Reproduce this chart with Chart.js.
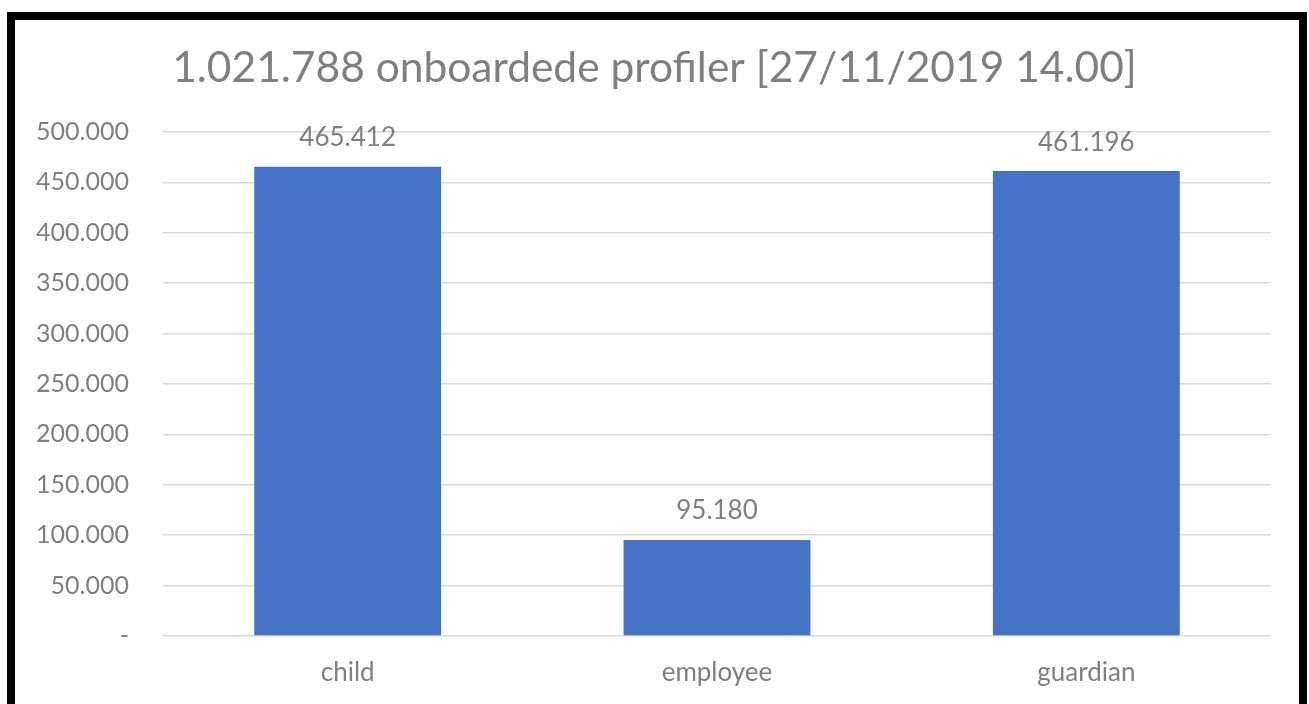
<!DOCTYPE html>
<html>
<head>
<meta charset="utf-8">
<script src="https://cdn.jsdelivr.net/npm/chart.js@4"></script>
<style>
  html, body { margin: 0; padding: 0; background: #fff; }
  #wrap { position: relative; width: 1309px; height: 704px; overflow: hidden; }
  #frame { position: absolute; left: 7px; top: 12px; width: 1284px; height: 720px;
           border: 8px solid #000; border-bottom: none; pointer-events: none; }
  canvas { position: absolute; left: 0; top: 0; }
</style>
</head>
<body>
<div id="wrap">
  <canvas id="chart" width="1309" height="704"></canvas>
  <div id="frame"></div>
</div>
<script>
const titleText = '1.021.788 onboardede profiler [27/11/2019 14.00]';
const categories = ['child', 'employee', 'guardian'];
const profileCounts = [465412, 95180, 461196];
const yMin = 0;
const yMax = 500000;
const yStep = 50000;

const gray = '#7f7f7f';
const fontFamily = 'Lato, "Open Sans", sans-serif';

function dotted(n) {
  if (n === 0) return '-';
  return String(n).replace(/\B(?=(\d{3})+(?!\d))/g, '.');
}

// values above the bars, placed from the bar elements
const valueLabels = {
  id: 'valueLabels',
  afterDatasetsDraw(chart) {
    const ctx = chart.ctx;
    const meta = chart.getDatasetMeta(0);
    ctx.save();
    ctx.fillStyle = gray;
    ctx.font = '26px ' + fontFamily;
    ctx.textAlign = 'center';
    ctx.textBaseline = 'middle';
    meta.data.forEach((bar, i) => {
      ctx.fillText(dotted(profileCounts[i]), bar.x, bar.y - 29);
    });
    ctx.restore();
  }
};

new Chart(document.getElementById('chart').getContext('2d'), {
  type: 'bar',
  data: {
    labels: categories,
    datasets: [{
      data: profileCounts,
      backgroundColor: '#4472c4',
      borderWidth: 0,
      categoryPercentage: 1,
      barPercentage: 0.506
    }]
  },
  options: {
    responsive: false,
    animation: false,
    layout: { padding: 0 },
    plugins: {
      legend: { display: false },
      tooltip: { enabled: false },
      title: {
        display: true,
        text: titleText,
        color: gray,
        font: { family: fontFamily, size: 42.5, weight: 'normal' },
        padding: { top: 43, bottom: 38 }
      }
    },
    scales: {
      x: {
        grid: { display: false, drawTicks: false },
        border: { display: false },
        ticks: { color: gray, font: { family: fontFamily, size: 26 }, padding: 21 },
        afterFit(s) { s.height = 68; }
      },
      y: {
        min: yMin,
        max: yMax,
        grid: { color: '#d9d9d9', lineWidth: 1.5, drawTicks: false },
        border: { display: false },
        ticks: {
          stepSize: yStep,
          color: gray,
          font: { family: fontFamily, size: 25 },
          padding: 34,
          callback: v => dotted(v)
        },
        afterFit(s) { s.width = 163; }
      },
      // empty right-hand margin so the title stays centred on the page
      rightPad: {
        type: 'linear',
        position: 'right',
        display: true,
        grid: { display: false, drawTicks: false },
        border: { display: false },
        ticks: { display: false },
        afterFit(s) { s.width = 38; }
      }
    }
  },
  plugins: [valueLabels]
});
</script>
</body>
</html>
